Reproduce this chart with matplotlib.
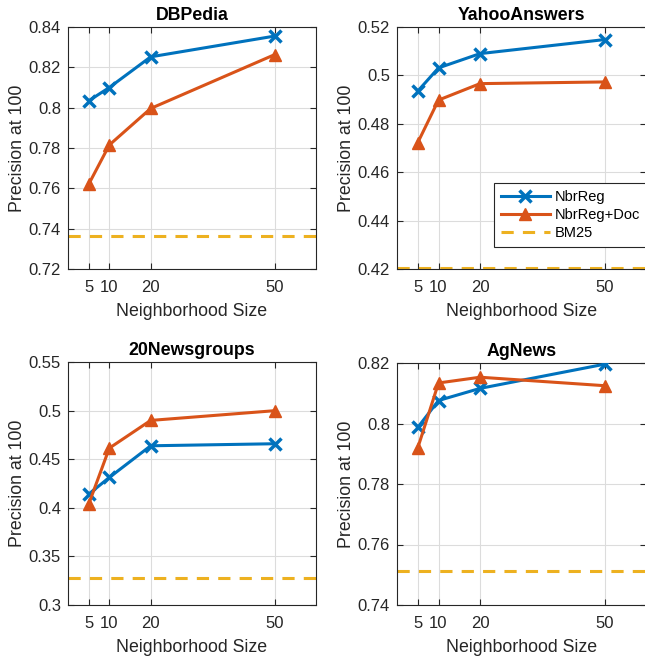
import matplotlib
matplotlib.use('Agg')
import matplotlib.pyplot as plt

plt.rcParams['font.family'] = ['Liberation Sans', 'DejaVu Sans']

# Neighborhood sizes
sizes = [5, 10, 20, 50]

# Precision at 100 per dataset
dbpedia_nbr = [0.8034, 0.8100, 0.8252, 0.8355]
dbpedia_doc = [0.7620, 0.7815, 0.7996, 0.8263]
dbpedia_bm25 = 0.7365

yahoo_nbr = [0.4935, 0.5031, 0.5090, 0.5148]
yahoo_doc = [0.4722, 0.4898, 0.4966, 0.4973]
yahoo_bm25 = 0.4204

news20_nbr = [0.4140, 0.4312, 0.4638, 0.4659]
news20_doc = [0.4037, 0.4614, 0.4899, 0.4999]
news20_bm25 = 0.3275

agnews_nbr = [0.7987, 0.8076, 0.8116, 0.8196]
agnews_doc = [0.7919, 0.8134, 0.8153, 0.8125]
agnews_bm25 = 0.7514

blue = '#0072BD'
orange = '#D95319'
yellow = '#EDB120'

W, H = 645, 658
fig = plt.figure(figsize=(W / 100, H / 100), dpi=100)

def add_ax(left, top, right, bottom):
    return fig.add_axes([left / W, 1 - bottom / H, (right - left) / W, (bottom - top) / H])

panels = [
    ('DBPedia', dbpedia_nbr, dbpedia_doc, dbpedia_bm25, (0.72, 0.84), [0.72, 0.74, 0.76, 0.78, 0.8, 0.82, 0.84], (68, 27, 316, 269)),
    ('YahooAnswers', yahoo_nbr, yahoo_doc, yahoo_bm25, (0.42, 0.52), [0.42, 0.44, 0.46, 0.48, 0.5, 0.52], (397, 27, 646, 269)),
    ('20Newsgroups', news20_nbr, news20_doc, news20_bm25, (0.3, 0.55), [0.3, 0.35, 0.4, 0.45, 0.5, 0.55], (68, 362, 316, 605)),
    ('AgNews', agnews_nbr, agnews_doc, agnews_bm25, (0.74, 0.82), [0.74, 0.76, 0.78, 0.8, 0.82], (397, 363, 646, 605)),
]

for i, (title, nbr, doc, bm25, ylim, yticks, box) in enumerate(panels):
    ax = add_ax(*box)
    ax.plot(sizes, nbr, color=blue, lw=2.2, marker='x', ms=8, mew=2.5, label='NbrReg', zorder=3)
    ax.plot(sizes, doc, color=orange, lw=2.2, marker='^', ms=9, label='NbrReg+Doc', zorder=3)
    ax.axhline(bm25, color=yellow, lw=2.2, ls=(0, (4, 3)), label='BM25', zorder=2)
    ax.set_xlim(0, 60)
    ax.set_ylim(*ylim)
    ax.set_xticks(sizes)
    ax.set_yticks(yticks)
    ax.set_yticklabels([('%g' % t) for t in yticks])
    ax.grid(True, color='#dcdcdc', lw=0.8)
    ax.set_axisbelow(True)
    ax.tick_params(direction='in', top=True, right=True, labelsize=12, colors='#262626', length=4)
    ax.tick_params(axis='x', pad=8)
    ax.tick_params(axis='y', pad=5)
    for s in ax.spines.values():
        s.set_color('#262626')
        s.set_linewidth(0.8)
    ax.set_title(title, fontsize=12.8, fontweight='bold', pad=5)
    ax.set_xlabel('Neighborhood Size', fontsize=12.8, color='#262626', labelpad=6)
    ax.set_ylabel('Precision at 100', fontsize=12.8, color='#262626', labelpad=2)
    if i == 1:
        leg = ax.legend(loc='upper left', bbox_to_anchor=(0.39, 0.355), borderaxespad=0,
                        fontsize=10.5, fancybox=False, edgecolor='#262626', framealpha=1,
                        handlelength=3.4, handletextpad=0.3, borderpad=0.45, labelspacing=0.3)
        leg.get_frame().set_linewidth(0.8)

fig.savefig('out.png', dpi=100)
